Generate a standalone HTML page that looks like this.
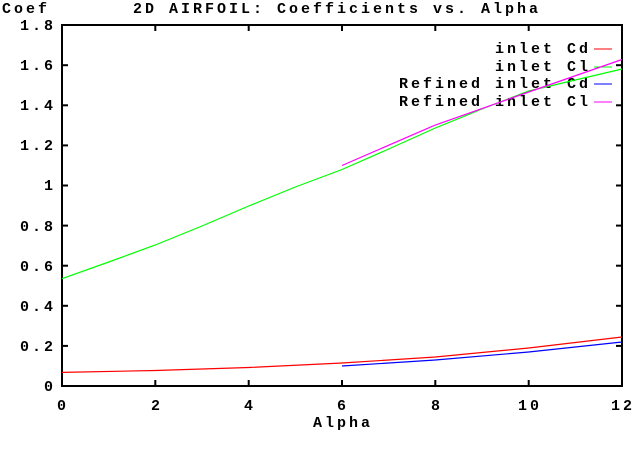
<!DOCTYPE html><html><head><style>body{margin:0;background:#fff}svg text{font-family:"Liberation Mono",monospace;font-weight:bold;font-size:15px;letter-spacing:3px;fill:#000}</style></head><body>
<svg width="640" height="450" xmlns="http://www.w3.org/2000/svg">
<rect x="62" y="25" width="560" height="361" fill="none" stroke="#000" stroke-width="2"/>
<g stroke="#000" stroke-width="2">
<line x1="62" y1="345.9" x2="68" y2="345.9"/><line x1="62" y1="305.8" x2="68" y2="305.8"/><line x1="62" y1="265.7" x2="68" y2="265.7"/><line x1="62" y1="225.6" x2="68" y2="225.6"/><line x1="62" y1="185.5" x2="68" y2="185.5"/><line x1="62" y1="145.4" x2="68" y2="145.4"/><line x1="62" y1="105.3" x2="68" y2="105.3"/><line x1="62" y1="65.2" x2="68" y2="65.2"/>
<line x1="616" y1="345.9" x2="622" y2="345.9"/><line x1="616" y1="305.8" x2="622" y2="305.8"/><line x1="616" y1="265.7" x2="622" y2="265.7"/><line x1="616" y1="225.6" x2="622" y2="225.6"/><line x1="616" y1="185.5" x2="622" y2="185.5"/><line x1="616" y1="145.4" x2="622" y2="145.4"/><line x1="616" y1="105.3" x2="622" y2="105.3"/><line x1="616" y1="65.2" x2="622" y2="65.2"/>
<line x1="155.3" y1="386" x2="155.3" y2="380"/><line x1="248.7" y1="386" x2="248.7" y2="380"/><line x1="342" y1="386" x2="342" y2="380"/><line x1="435.3" y1="386" x2="435.3" y2="380"/><line x1="528.7" y1="386" x2="528.7" y2="380"/>
<line x1="155.3" y1="25" x2="155.3" y2="31"/><line x1="248.7" y1="25" x2="248.7" y2="31"/><line x1="342" y1="25" x2="342" y2="31"/><line x1="435.3" y1="25" x2="435.3" y2="31"/><line x1="528.7" y1="25" x2="528.7" y2="31"/>
</g>
<g text-anchor="end">
<text x="56" y="391">0</text><text x="56" y="351">0.2</text><text x="56" y="311">0.4</text><text x="56" y="271">0.6</text><text x="56" y="231">0.8</text><text x="56" y="190">1</text><text x="56" y="150">1.2</text><text x="56" y="110">1.4</text><text x="56" y="70">1.6</text><text x="56" y="30">1.8</text>
</g>
<g text-anchor="middle">
<text x="63" y="410">0</text><text x="157" y="410">2</text><text x="250" y="410">4</text><text x="343" y="410">6</text><text x="437" y="410">8</text><text x="530" y="410">10</text><text x="623" y="410">12</text>
<text x="343" y="427">Alpha</text>
<text x="337" y="13">2D AIRFOIL: Coefficients vs. Alpha</text>
</g>
<text x="2" y="13">Coef</text>
<g text-anchor="end">
<text x="591" y="53">inlet Cd</text><text x="591" y="71">inlet Cl</text><text x="591" y="88">Refined inlet Cd</text><text x="591" y="106">Refined inlet Cl</text>
</g>
<line x1="594" y1="49" x2="612" y2="49" stroke="#f00"/>
<line x1="594" y1="67" x2="612" y2="67" stroke="#0f0"/>
<line x1="594" y1="84" x2="612" y2="84" stroke="#00f"/>
<line x1="594" y1="102" x2="612" y2="102" stroke="#f0f"/>
<g fill="none" stroke-width="1.2">
<path d="M62,278.7 L108.7,262 L155.3,245 L202,226 L248.7,206 L295.3,187 L342,169.5 L388.7,149 L435.3,128 L482,109 L528.7,91 L575.3,80 L622,69" stroke="#0f0"/>
<path d="M342,165.5 L435.3,125 L528.7,92 L622,59.5" stroke="#f0f"/>
<path d="M62,372.4 L155.3,370.5 L248.7,367.5 L342,363 L435.3,357 L528.7,348 L622,337" stroke="#f00"/>
<path d="M342,366 L435.3,360 L528.7,352 L622,342" stroke="#00f"/>
</g>
</svg></body></html>
